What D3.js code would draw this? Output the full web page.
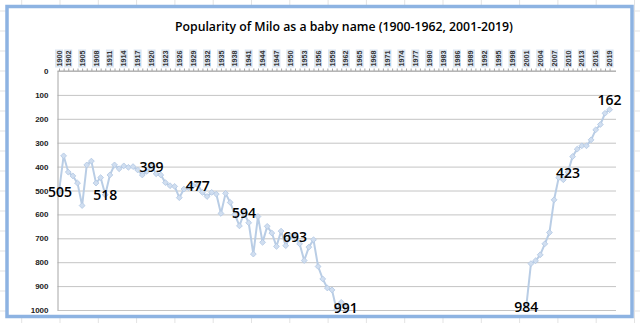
<!DOCTYPE html>
<html><head><meta charset="utf-8">
<script src="https://cdn.jsdelivr.net/npm/d3@7"></script>
<style>html,body{margin:0;padding:0;background:#fff;overflow:hidden}</style>
</head><body>
<svg id="chart" width="640" height="323"></svg>
<script>
// ---- data ----
const titleText = "Popularity of Milo as a baby name (1900-1962, 2001-2019)";
const categories = d3.range(1900, 2020); // category axis: every year 1900..2019
const years1900to1962 = [1900,1901,1902,1903,1904,1905,1906,1907,1908,1909,1910,1911,1912,1913,1914,1915,1916,1917,1918,1919,1920,1921,1922,1923,1924,1925,1926,1927,1928,1929,1930,1931,1932,1933,1934,1935,1936,1937,1938,1939,1940,1941,1942,1943,1944,1945,1946,1947,1948,1949,1950,1951,1952,1953,1954,1955,1956,1957,1958,1959,1960,1961,1962];
const ranks1900to1962 = [505,355,423,439,469,563,393,377,469,446,518,435,393,409,397,403,400,414,435,420,399,430,435,467,480,483,530,494,488,480,477,508,525,508,515,596,512,550,600,648,594,635,766,609,717,650,678,734,670,731,690,693,723,793,737,706,818,870,908,916,999,968,991];
const years2001to2019 = [2001,2002,2003,2004,2005,2006,2007,2008,2009,2010,2011,2012,2013,2014,2015,2016,2017,2018,2019];
const ranks2001to2019 = [984,806,794,769,723,676,539,446,455,423,358,327,313,313,288,246,224,177,162];
const labelledYears = [1900,1910,1920,1930,1940,1951,1962,2001,2010,2019];
const labelAboveYears = [2019];
const xTickLabels = ["1900","1902","1905","1908","1911","1914","1917","1920","1923","1926","1929","1932","1935","1938","1941","1944","1947","1950","1953","1956","1959","1962","1965","1968","1971","1974","1977","1980","1983","1986","1989","1992","1995","1998","2001","2004","2007","2010","2013","2016","2019"];
const yTicks = [0,100,200,300,400,500,600,700,800,900,1000];

// ---- drawing ----
const svg = d3.select("#chart");
const W = 640, H = 323;

// spreadsheet cells behind the chart
const bg = svg.append("g");
for (let x = 21.7; x < W; x += 38.3) bg.append("line").attr("x1", x).attr("x2", x).attr("y1", 0).attr("y2", H).attr("stroke", "#e3e3e3").attr("stroke-width", 1);
for (let y = 11; y < H; y += 20) bg.append("line").attr("x1", 0).attr("x2", W).attr("y1", y).attr("y2", y).attr("stroke", "#e3e3e3").attr("stroke-width", 1);

// chart frame
svg.append("rect").attr("x", 7).attr("y", 6.5).attr("width", 625).attr("height", 310)
  .attr("fill", "#fff").attr("stroke", "#8db3e2").attr("stroke-width", 3.5);

svg.append("text").attr("x", 344).attr("y", 31).attr("text-anchor", "middle")
  .attr("font-family", "Open Sans, Liberation Sans, sans-serif").attr("font-size", 13).attr("font-weight", 600)
  .attr("textLength", 338).attr("lengthAdjust", "spacingAndGlyphs")
  .attr("fill", "#000").text(titleText);

const plotL = 57.5, plotR = 616;
const x = d3.scalePoint().domain(categories).range([59, 609.6]);
const y = d3.scaleLinear().domain([0, 1000]).range([71, 310]);

// gridlines
const gy = d3.axisLeft(y).tickValues(yTicks).tickSize(-(plotR - plotL)).tickFormat("");
svg.append("g").attr("transform", `translate(${plotL},0)`).call(gy)
  .call(g => g.select(".domain").remove())
  .call(g => g.selectAll("line").attr("stroke", "#c4c4c4").attr("stroke-width", 1));

// y axis labels
const ya = d3.axisLeft(y).tickValues(yTicks).tickSize(0).tickPadding(9).tickFormat(d3.format("d"));
svg.append("g").attr("transform", `translate(${plotL},0)`).call(ya)
  .call(g => g.select(".domain").attr("stroke", "#a6a6a6"))
  .call(g => g.selectAll("text").attr("font-family", "Liberation Sans, Arial, sans-serif").attr("font-size", 8).attr("font-weight", "bold").attr("fill", "#222"));

// top category axis with yearly ticks
const xa = d3.axisTop(x).tickValues(categories).tickSize(2.5).tickFormat("");
svg.append("g").attr("transform", `translate(0,${y(0)})`).call(xa)
  .call(g => g.select(".domain").attr("d", `M${plotL},0H${plotR}`).attr("stroke", "#a6a6a6"))
  .call(g => g.selectAll("line").attr("stroke", "#a6a6a6"));

const xl = svg.append("g");
xTickLabels.forEach(lbl => {
  const cx = x(+lbl);
  xl.append("rect").attr("x", cx - 4).attr("y", 49.5).attr("width", 8).attr("height", 18).attr("fill", "#dce6f2");
  xl.append("text").attr("transform", `translate(${cx + 2.6},58.5) rotate(-90)`)
    .attr("text-anchor", "middle").attr("font-family", "Liberation Sans, Arial, sans-serif")
    .attr("font-size", 7.2).attr("font-weight", "bold").attr("fill", "#333").text(lbl);
});

// series
const seg1 = years1900to1962.map((yr, i) => ({ yr, v: ranks1900to1962[i] }));
const seg2 = years2001to2019.map((yr, i) => ({ yr, v: ranks2001to2019[i] }));
const line = d3.line().x(d => x(d.yr)).y(d => y(d.v));
const lineColor = "#b9cde5";
[seg1, seg2].forEach(seg => {
  svg.append("path").datum(seg).attr("d", line).attr("fill", "none")
    .attr("stroke", lineColor).attr("stroke-width", 2).attr("stroke-linejoin", "round");
});
const sym = d3.symbol().type(d3.symbolSquare).size(17);
const all = seg1.concat(seg2);
svg.append("g").selectAll("path").data(all).join("path")
  .attr("d", sym)
  .attr("transform", d => `translate(${x(d.yr)},${y(d.v)}) rotate(45)`)
  .attr("fill", "#d0def0").attr("stroke", "#b4c9e4").attr("stroke-width", 0.8);

// data labels
svg.append("g").selectAll("text").data(all.filter(d => labelledYears.includes(d.yr))).join("text")
  .attr("x", d => x(d.yr) + (d.yr === 1900 ? 1 : 0))
  .attr("y", d => labelAboveYears.includes(d.yr) ? y(d.v) - 5 : y(d.v) + 5.5)
  .attr("text-anchor", "middle").attr("font-family", "Open Sans, Liberation Sans, sans-serif")
  .attr("font-size", 14).attr("font-weight", 600).attr("fill", "#000")
  .text(d => d.v);
</script>
</body></html>
